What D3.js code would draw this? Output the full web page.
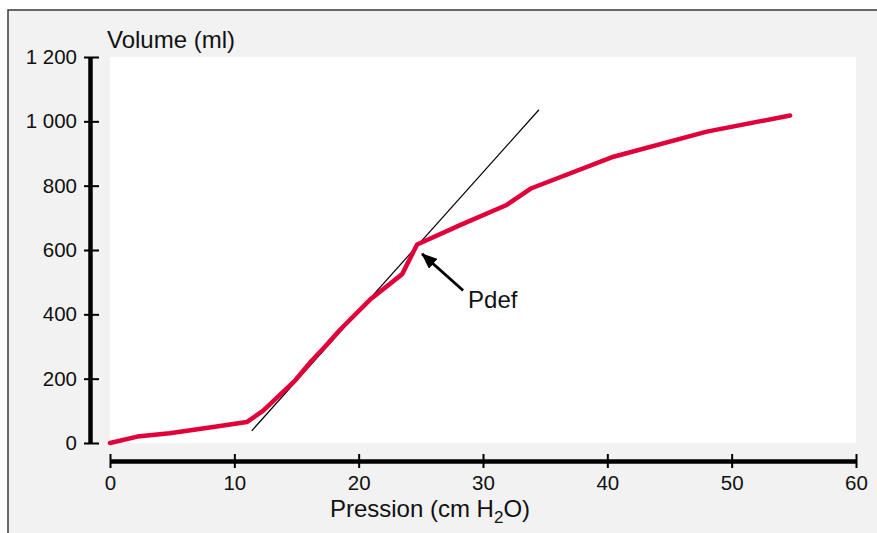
<!DOCTYPE html>
<html>
<head>
<meta charset="utf-8">
<script src="https://cdn.jsdelivr.net/npm/d3@7"></script>
<style>
  body { margin: 0; background: #fff; }
  text { font-family: 'Liberation Sans', Arial, sans-serif; fill: #111; }
</style>
</head>
<body>
<div id="container"></div>
<script>
// pressure-volume curve
const pressure = [0, 2.2, 4.8, 8.3, 11, 12.3, 14.9, 16.2, 17.3, 18.5, 20.9, 23.5, 24.7, 28.2, 31.9, 33.9, 40.5, 48, 54.7];
const volume = [0, 20, 30, 50, 65, 100, 195, 255, 300, 352, 445, 525, 617, 678, 740, 792, 890, 968, 1018];

// tangent on the linear part
const tangentP = [11.4, 34.5];
const tangentV = [38, 1036];

// Pdef arrow (tail -> tip) and label
const arrowP = [28.4, 25.1];
const arrowV = [474, 588];
const pdefLabel = { text: 'Pdef', p: 28.8, v: 420 };

const xTicks = [0, 10, 20, 30, 40, 50, 60];
const yTicks = [0, 200, 400, 600, 800, 1000, 1200];
const xTitle = 'Pression (cm H';
const yTitle = 'Volume (ml)';

let svg,
  xScale,
  yScale,
  svgWidth = 877,
  svgHeight = 533;

const fr = d3.formatLocale({ decimal: ',', thousands: ' ', grouping: [3], currency: ['', ' €'] });

const drawFrame = () => {
  svg = d3
    .select('#container')
    .append('svg')
    .attr('width', svgWidth)
    .attr('height', svgHeight);

  svg
    .append('rect')
    .attr('x', 8)
    .attr('y', 10)
    .attr('width', 920)
    .attr('height', 600)
    .attr('fill', '#f2f2f2')
    .attr('stroke', '#3a3a3a')
    .attr('stroke-width', 1.5);
};

const generateScales = () => {
  xScale = d3.scaleLinear().domain([0, 60]).range([110, 856]);
  yScale = d3.scaleLinear().domain([0, 1200]).range([443, 57]);

  svg
    .append('rect')
    .attr('x', xScale(0))
    .attr('y', yScale(1200))
    .attr('width', xScale(60) - xScale(0))
    .attr('height', yScale(0) - yScale(1200))
    .attr('fill', '#fff');
};

const generateAxes = () => {
  const xAxis = d3.axisBottom(xScale).tickValues(xTicks).tickSize(7).tickSizeOuter(0).tickPadding(7);
  const yAxis = d3
    .axisLeft(yScale)
    .tickValues(yTicks)
    .tickSize(6)
    .tickSizeOuter(0)
    .tickPadding(7)
    .tickFormat(fr.format(',d'));

  const gx = svg.append('g').attr('id', 'x-axis').attr('transform', 'translate(0,461)').call(xAxis);
  const gy = svg.append('g').attr('id', 'y-axis').attr('transform', 'translate(90,0)').call(yAxis);

  [gx, gy].forEach((g) => {
    g.select('.domain').attr('stroke', '#000').attr('stroke-width', 4.5);
    g.selectAll('.tick line').attr('stroke', '#000').attr('stroke-width', 2);
    g.selectAll('.tick text').attr('fill', '#111').style('font-size', '20.5px').style('font-family', 'Liberation Sans, Arial, sans-serif');
  });
  // ticks cross the axis line
  gx.selectAll('.tick line').attr('y1', -7);
  gy.selectAll('.tick line').attr('x1', 9);

  svg
    .append('text')
    .attr('x', 107)
    .attr('y', 48)
    .style('font-size', '24px')
    .text(yTitle);

  const t = svg
    .append('text')
    .attr('x', 430)
    .attr('y', 517)
    .attr('text-anchor', 'middle')
    .style('font-size', '24px');
  t.append('tspan').text(xTitle);
  t.append('tspan').attr('dy', 6).style('font-size', '17px').text('2');
  t.append('tspan').attr('dy', -6).text('O)');
};

const drawLines = () => {
  svg
    .append('line')
    .attr('x1', xScale(tangentP[0]))
    .attr('y1', yScale(tangentV[0]))
    .attr('x2', xScale(tangentP[1]))
    .attr('y2', yScale(tangentV[1]))
    .attr('stroke', '#000')
    .attr('stroke-width', 1.2);

  const line = d3
    .line()
    .x((d) => xScale(d[0]))
    .y((d) => yScale(d[1]));

  svg
    .append('path')
    .datum(pressure.map((p, i) => [p, volume[i]]))
    .attr('d', line)
    .attr('fill', 'none')
    .attr('stroke', '#e2003a')
    .attr('stroke-width', 4.5)
    .attr('stroke-linejoin', 'round')
    .attr('stroke-linecap', 'round');
};

const drawAnnotation = () => {
  svg
    .append('defs')
    .append('marker')
    .attr('id', 'head')
    .attr('markerUnits', 'userSpaceOnUse')
    .attr('viewBox', '0 0 16 13')
    .attr('refX', 15)
    .attr('refY', 6.5)
    .attr('markerWidth', 16)
    .attr('markerHeight', 13)
    .attr('orient', 'auto')
    .append('path')
    .attr('d', 'M0,0L16,6.5L0,13Z')
    .attr('fill', '#000');

  svg
    .append('line')
    .attr('x1', xScale(arrowP[0]))
    .attr('y1', yScale(arrowV[0]))
    .attr('x2', xScale(arrowP[1]))
    .attr('y2', yScale(arrowV[1]))
    .attr('stroke', '#000')
    .attr('stroke-width', 2.8)
    .attr('marker-end', 'url(#head)');

  svg
    .append('text')
    .attr('x', xScale(pdefLabel.p))
    .attr('y', yScale(pdefLabel.v))
    .style('font-size', '24px')
    .text(pdefLabel.text);
};

drawFrame();
generateScales();
generateAxes();
drawLines();
drawAnnotation();
</script>
</body>
</html>
